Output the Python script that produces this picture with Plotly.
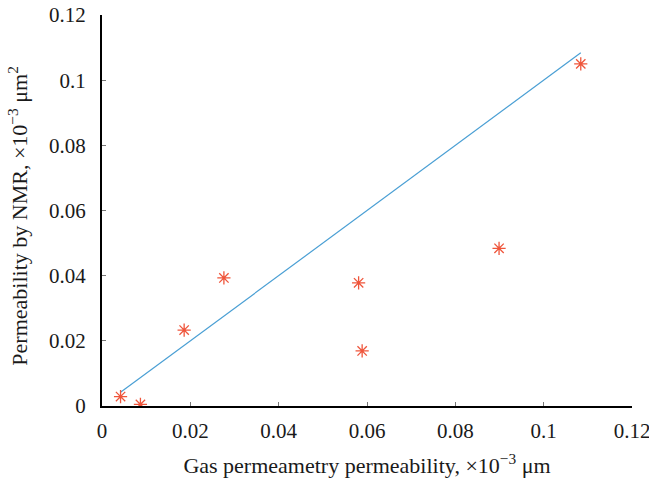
import plotly.graph_objects as go

# Measured permeability pairs (×10⁻³ units)
gas_perm = [0.0042, 0.0087, 0.0186, 0.0276, 0.0581, 0.0589, 0.0899, 0.1084]
nmr_perm = [0.0029, 0.0005, 0.0233, 0.0393, 0.0378, 0.0169, 0.0484, 0.1050]

tick_vals = [0, 0.02, 0.04, 0.06, 0.08, 0.1, 0.12]
tick_text = ["0", "0.02", "0.04", "0.06", "0.08", "0.1", "0.12"]

# 1:1 reference line spanning the measured gas permeability range
line_x = [min(gas_perm), max(gas_perm)]
line_y = line_x

serif = "Liberation Serif"
text_color = "#1a1a1a"

fig = go.Figure()
fig.add_trace(go.Scatter(
    x=line_x, y=line_y, mode="lines",
    line=dict(color="#4a9fd4", width=1.2),
    showlegend=False,
))
fig.add_trace(go.Scatter(
    x=gas_perm, y=nmr_perm, mode="markers",
    marker=dict(symbol="asterisk-open", size=11,
                line=dict(color="#ff2a2a", width=1.3)),
    showlegend=False,
))

axis_common = dict(
    showline=True, linecolor="black", linewidth=2,
    ticks="inside", ticklen=4, tickcolor="#777777", tickwidth=1,
    showgrid=False, zeroline=False,
    tickfont=dict(family=serif, size=21, color=text_color),
    tickvals=tick_vals, ticktext=tick_text,
    range=[0, 0.12],
    ticklabeloverflow="allow",
    automargin=False,
)

fig.update_layout(
    width=649, height=478,
    margin=dict(l=102, r=17, t=15, b=72),
    paper_bgcolor="white", plot_bgcolor="white",
    xaxis=dict(**axis_common, ticklabelstandoff=5,
               title=dict(text="Gas permeametry permeability, ×10<sup>−3</sup> μm",
                          font=dict(family=serif, size=22, color=text_color),
                          standoff=16)),
    yaxis=dict(**axis_common, ticklabelstandoff=10),
)

# Vertical y-axis title placed beside the tick labels
fig.add_annotation(
    text="Permeability by NMR, ×10<sup>−3</sup> μm<sup>2</sup>",
    xref="paper", yref="paper", x=-0.158, y=0.485,
    xanchor="center", yanchor="middle", textangle=-90, showarrow=False,
    font=dict(family=serif, size=22, color=text_color),
)

fig.write_html("out.html")
